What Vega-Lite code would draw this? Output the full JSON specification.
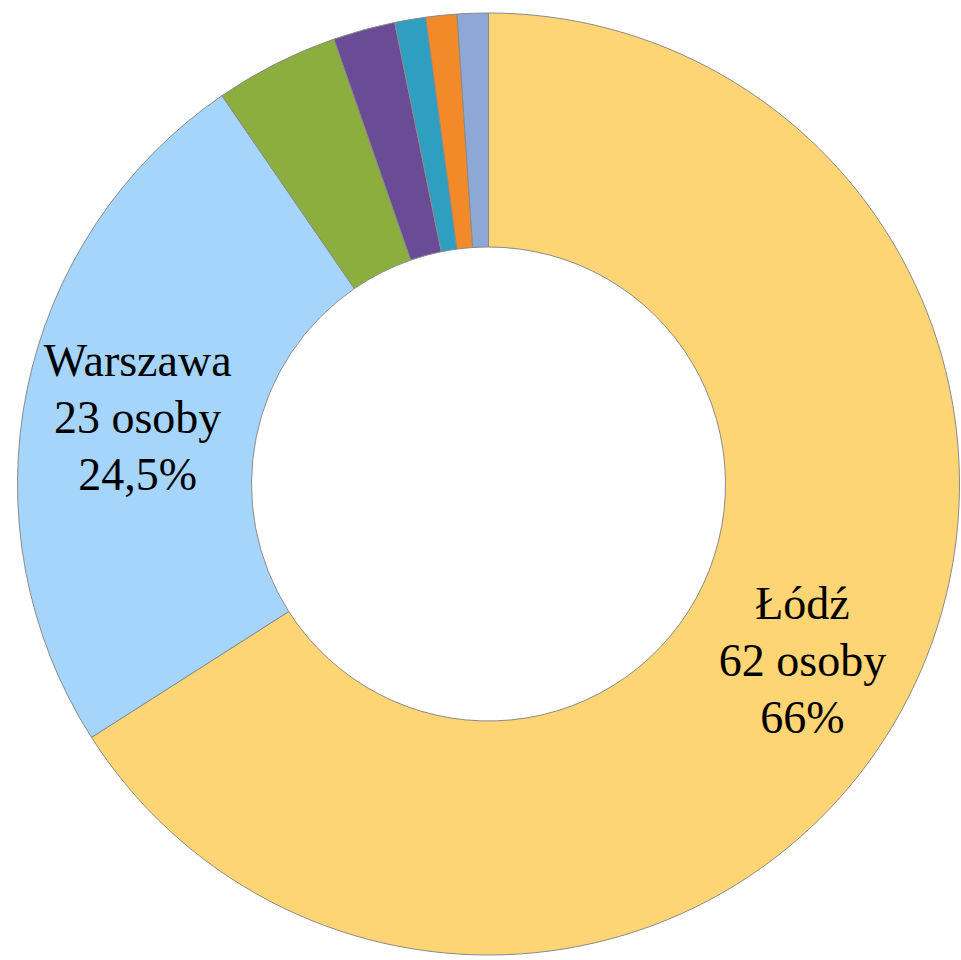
{
  "$schema": "https://vega.github.io/schema/vega-lite/v6.json",
  "autosize": {"type": "fit", "contains": "padding"},
  "width": 961,
  "height": 960,
  "padding": {"left": 16, "top": 8, "right": 0, "bottom": 0},
  "background": "white",
  "view": {"stroke": null},
  "data": {"values": [
    {"city": "Łódź", "count": 62, "order": 1, "label": "Łódź\n62 osoby\n66%"},
    {"city": "Warszawa", "count": 23, "order": 2, "label": "Warszawa\n23 osoby\n24,5%"},
    {"city": "Inne 1", "count": 4, "order": 3, "label": ""},
    {"city": "Inne 2", "count": 2, "order": 4, "label": ""},
    {"city": "Inne 3", "count": 1, "order": 5, "label": ""},
    {"city": "Inne 4", "count": 1, "order": 6, "label": ""},
    {"city": "Inne 5", "count": 1, "order": 7, "label": ""}
  ]},
  "encoding": {
    "theta": {"field": "count", "type": "quantitative", "stack": true},
    "order": {"field": "order", "type": "quantitative"},
    "color": {
      "field": "city", "type": "nominal", "legend": null,
      "scale": {
        "domain": ["Łódź", "Warszawa", "Inne 1", "Inne 2", "Inne 3", "Inne 4", "Inne 5"],
        "range": ["#FDD574", "#A6D5FC", "#8BAE3F", "#6A4C96", "#2E9FC0", "#F28A2A", "#8DA8D4"]
      }
    }
  },
  "layer": [
    {
      "mark": {"type": "arc", "outerRadius": 471, "innerRadius": 237, "stroke": "#8a8a8a", "strokeWidth": 1}
    },
    {
      "mark": {"type": "text", "radius": 358, "dy": -51, "font": "Liberation Serif", "fontSize": 46, "lineBreak": "\n", "lineHeight": 57, "baseline": "middle", "align": "center"},
      "encoding": {"text": {"field": "label"}, "color": {"value": "black"}}
    }
  ]
}
